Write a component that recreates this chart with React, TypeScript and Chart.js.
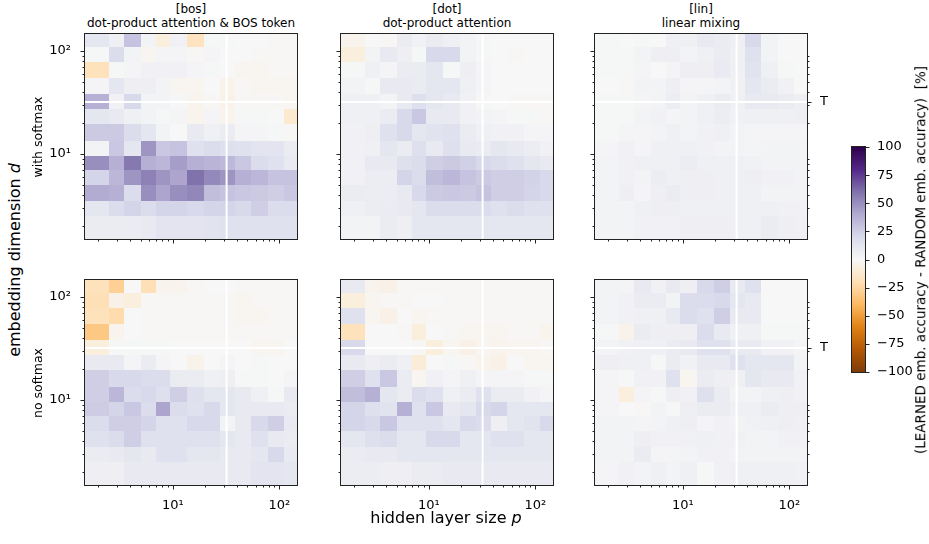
import React, { useEffect, useRef } from "react";
import { Chart, registerables } from "chart.js";

Chart.register(...registerables);

const FONT = "'DejaVu Sans', sans-serif";

// ---------------- data ----------------
const P_VALUES = [2, 3, 4, 6, 8, 11, 16, 23, 32, 45, 64, 91, 128];
// rows are listed from the top of each panel (d = 128) down to the bottom (d = 2)
const D_VALUES_TOP_DOWN = [128, 91, 64, 45, 32, 23, 16, 11, 8, 6, 4, 3, 2];
const T_VALUE = 32;
const MAJOR_TICKS = [10, 100];
const MINOR_TICKS = [2, 3, 4, 5, 6, 7, 8, 9, 20, 30, 40, 50, 60, 70, 80, 90];
const CBAR_TICKS = [-100, -75, -50, -25, 0, 25, 50, 75, 100];
const PUOR = ["#7f3b08", "#b35806", "#e08214", "#fdb863", "#fee0b6", "#f7f7f7", "#d8daeb", "#b2abd2", "#8073ac", "#542788", "#2d004b"];

const COLUMN_TITLES = [
  ["[bos]", "dot-product attention & BOS token"],
  ["[dot]", "dot-product attention"],
  ["[lin]", "linear mixing"],
];
const ROW_LABELS = ["with softmax", "no softmax"];
const X_LABEL = "hidden layer size ";
const Y_LABEL = "embedding dimension ";
const CBAR_LABEL = "(LEARNED emb. accuracy - RANDOM emb. accuracy)  [%]";

const BOS_SOFTMAX = [
  [12, 5, 30, 3, -8, 4, -17, 1, 1, 0, 0, -1, -1],
  [1, 18, 3, -2, 2, 2, -1, 2, 0, 0, -1, -1, -1],
  [-18, 1, 2, 4, 4, 4, 2, 1, 0, -2, -2, -1, -1],
  [2, 12, 6, 6, 3, -2, -2, 0, -4, -1, -2, -2, -2],
  [38, 4, 20, 3, 3, 1, -3, -1, -4, -1, -1, -1, -2],
  [12, 10, 5, 3, 1, 2, -3, 2, -3, 1, 1, 0, -12],
  [27, 27, 18, 12, 3, 0, 10, 5, 8, 2, 2, 1, -1],
  [3, 28, 12, 48, 28, 30, 15, 18, 16, 15, 13, 13, 8],
  [50, 38, 58, 38, 35, 45, 38, 36, 34, 28, 18, 15, 10],
  [22, 35, 48, 55, 48, 42, 60, 52, 48, 38, 35, 30, 30],
  [40, 38, 18, 50, 42, 50, 53, 32, 30, 28, 27, 25, 28],
  [12, 18, 22, 18, 22, 22, 20, 22, 22, 20, 25, 18, 18],
  [8, 8, 8, 10, 13, 13, 13, 14, 15, 15, 15, 15, 15],
];

const DOT_SOFTMAX = [
  [-3, 0, -1, 8, 4, 8, 5, 3, 1, 0, 0, 0, 0],
  [-8, 3, 10, 6, 1, 20, 20, 3, 1, 0, -1, 0, 0],
  [1, 5, 2, 8, 8, 12, 1, 6, 2, 0, 0, 0, 0],
  [3, 1, 10, 10, 8, 12, 12, 5, 2, 0, 0, 0, 0],
  [5, 5, 3, 10, 16, 12, 10, 4, 1, 0, -1, -1, -1],
  [5, 5, 8, 20, 28, 10, 10, 4, 3, 2, 1, 1, -1],
  [4, 6, 15, 20, 12, 14, 15, 8, 5, 4, 4, 2, 2],
  [4, 5, 12, 8, 16, 10, 16, 10, 8, 12, 10, 7, 4],
  [4, 10, 10, 16, 18, 25, 27, 24, 20, 18, 15, 12, 10],
  [4, 7, 7, 22, 18, 32, 35, 30, 27, 25, 25, 23, 20],
  [8, 7, 7, 10, 20, 27, 28, 27, 30, 25, 25, 22, 20],
  [5, 7, 8, 10, 12, 18, 18, 18, 18, 15, 18, 15, 15],
  [3, 3, 8, 6, 12, 12, 12, 12, 12, 12, 12, 12, 12],
];

const LIN_SOFTMAX = [
  [1, 0, 1, 0, 5, 5, 10, 8, 6, 20, 3, 0, 0],
  [1, 1, 3, 6, 6, 3, 5, 8, 5, 15, 3, 0, 0],
  [1, 1, 2, 0, 2, 6, 6, 9, 5, 14, 5, 1, 0],
  [0, -1, 3, 3, 6, 2, 2, 3, 4, 12, 8, 4, 0],
  [1, 1, 2, 3, 7, 3, 5, 8, 5, 10, 10, 8, 6],
  [1, 1, 3, 4, 2, 3, 5, 7, 4, 5, 5, 5, 6],
  [1, 2, 2, 3, 5, 3, 4, 5, 3, 2, 2, 2, 2],
  [2, 4, 2, 5, 5, 5, 4, 3, 3, 2, 3, 3, 3],
  [3, 4, 5, 5, 5, 7, 5, 5, 5, 4, 3, 3, 3],
  [3, 4, 3, 7, 5, 6, 6, 5, 5, 6, 4, 4, 3],
  [3, 6, 2, 6, 8, 6, 6, 5, 5, 5, 3, 3, 3],
  [3, 3, 5, 6, 6, 5, 5, 5, 5, 5, 5, 4, 4],
  [3, 3, 4, 4, 4, 6, 6, 6, 5, 5, 8, 6, 5],
];

const BOS_NO_SOFTMAX = [
  [-18, -28, 0, -20, -3, -3, -1, 0, 0, -1, -1, -1, -1],
  [-20, -5, -8, -1, -1, -1, -1, -1, -1, -2, -1, -1, -1],
  [-18, -22, 0, -1, -1, -1, -1, -1, -1, -2, -2, -1, -1],
  [-32, -3, 0, -1, -1, -1, -1, -1, -1, -1, -1, -1, -1],
  [-8, 1, 1, 1, 1, 0, 0, 0, 0, 0, -2, -2, 0],
  [10, 10, 2, 8, 2, 0, -4, 0, 2, 0, 1, 0, 0],
  [25, 20, 20, 18, 18, 8, 8, 5, 6, 1, 1, 0, 2],
  [25, 35, 18, 20, 16, 25, 16, 12, 12, 10, 5, 1, 10],
  [26, 22, 28, 18, 42, 18, 15, 20, 12, 10, 10, 10, 8],
  [18, 25, 25, 22, 15, 15, 20, 20, 3, 10, 20, 25, 10],
  [15, 18, 25, 15, 15, 15, 15, 15, 12, 10, 15, 10, 8],
  [8, 10, 12, 10, 15, 15, 12, 12, 10, 10, 12, 20, 10],
  [6, 6, 10, 10, 10, 10, 10, 10, 10, 10, 13, 13, 12],
];

const DOT_NO_SOFTMAX = [
  [10, -3, -5, -1, -1, -1, -1, -1, -1, -1, -1, -1, -1],
  [-8, -2, -1, -1, 0, 0, -1, -1, -1, -1, -1, -1, -1],
  [15, -2, -5, 0, -2, -1, -1, -1, -1, -1, -1, -1, -1],
  [-18, 0, 0, -1, -8, 0, -1, -2, -2, -2, -1, -1, -3],
  [20, 0, 0, 0, -1, -8, -2, -5, -2, -3, -2, -2, -1],
  [10, 6, 8, 5, -10, 0, 1, -1, -3, -5, 0, -2, -2],
  [25, 15, 28, 8, -2, 4, 2, 5, 2, 2, 2, 1, 1],
  [32, 38, 12, 8, 18, 15, 5, 8, 15, 8, 8, 4, 2],
  [22, 16, 14, 38, 15, 28, 10, 12, 20, 22, 12, 12, 12],
  [22, 20, 28, 15, 15, 15, 12, 20, 18, 6, 12, 14, 20],
  [12, 16, 18, 12, 12, 20, 20, 12, 12, 15, 15, 12, 12],
  [8, 10, 10, 12, 12, 12, 12, 12, 12, 12, 12, 12, 12],
  [7, 7, 6, 6, 8, 8, 10, 10, 10, 10, 10, 10, 10],
];

const LIN_NO_SOFTMAX = [
  [3, 2, 10, 4, 10, 6, 20, 25, 10, 15, 0, 0, 0],
  [3, 4, 8, 8, 3, 18, 18, 20, 12, 10, 0, 0, 0],
  [3, 4, 5, 5, 10, 18, 15, 25, 10, 10, 0, 0, 0],
  [1, -4, 8, 6, 6, 6, 18, 10, 5, 5, 1, 1, 1],
  [3, 4, 5, 5, 8, 10, 15, 15, 10, 10, 4, 4, 2],
  [6, 5, 5, 1, 8, 4, 10, 10, 15, 12, 12, 12, 3],
  [2, 1, 4, 4, 15, -2, 8, 6, 5, 12, 10, 10, 4],
  [2, -8, 2, 1, 6, 4, 16, 8, 3, 3, 5, 6, 4],
  [2, 0, -1, 3, 1, 6, 8, 8, 5, 5, 8, 6, 6],
  [3, 3, 2, 3, 5, 6, 2, 4, 3, 4, 5, 6, 5],
  [3, 3, 6, 4, 4, 4, 5, 4, 4, 3, 3, 4, 4],
  [3, 3, 8, 2, 2, 3, 4, 4, 3, 3, 3, 3, 3],
  [2, 4, 3, 5, 3, 5, 1, 4, 5, 5, 5, 5, 4],
];

const PANEL_DATA = [
  [BOS_SOFTMAX, DOT_SOFTMAX, LIN_SOFTMAX],
  [BOS_NO_SOFTMAX, DOT_NO_SOFTMAX, LIN_NO_SOFTMAX],
];

// ---------------- layout ----------------
const COL_LEFT = [85, 341, 595];
const ROW_TOP = [34, 280];
const PW = 212;
const PH = 205;
const CB = { left: 852, top: 147, width: 13, height: 225 };
const TICK_FONT_SIZE = 13;

// ---------------- helpers ----------------
function edgesOf(values: number[]): number[] {
  const n = values.length;
  const e = [values[0] - (values[1] - values[0]) / 2];
  for (let i = 0; i < n - 1; i++) e.push((values[i] + values[i + 1]) / 2);
  e.push(values[n - 1] + (values[n - 1] - values[n - 2]) / 2);
  return e;
}
const D_ASC = [...D_VALUES_TOP_DOWN].reverse();
const X_EDGES = edgesOf(P_VALUES);
const Y_EDGES = edgesOf(D_ASC);

function hexToRgb(h: string) {
  return [parseInt(h.slice(1, 3), 16), parseInt(h.slice(3, 5), 16), parseInt(h.slice(5, 7), 16)];
}
const PUOR_RGB = PUOR.map(hexToRgb);
function puor(v: number): string {
  const t = Math.max(0, Math.min(1, (v + 100) / 200)) * (PUOR.length - 1);
  const i = Math.min(PUOR.length - 2, Math.floor(t));
  const f = t - i;
  const a = PUOR_RGB[i];
  const b = PUOR_RGB[i + 1];
  const c = a.map((x, k) => Math.round(x + (b[k] - x) * f));
  return `rgb(${c[0]},${c[1]},${c[2]})`;
}
function decadeLabel(v: number): string {
  if (v === 10) return "10\u00b9";
  if (v === 100) return "10\u00b2";
  return "";
}
const ALL_TICKS = [...MINOR_TICKS, ...MAJOR_TICKS].sort((a, b) => a - b);
const MAJOR_LEN = 4.5;
const MINOR_LEN = 2.5;

// adjust the layout padding until the chart area sits exactly on the target box
function fitArea(chart: any, pad: any, target: { left: number; top: number; right: number; bottom: number }) {
  for (let k = 0; k < 5; k++) {
    const a = chart.chartArea;
    const dl = target.left - a.left;
    const dt = target.top - a.top;
    const dr = a.right - target.right;
    const db = a.bottom - target.bottom;
    if (Math.abs(dl) + Math.abs(dt) + Math.abs(dr) + Math.abs(db) < 0.25) break;
    pad.left += dl;
    pad.top += dt;
    pad.right += dr;
    pad.bottom += db;
    chart.options.layout.padding = { left: pad.left, top: pad.top, right: pad.right, bottom: pad.bottom };
    chart.update();
  }
}

function Panel({ row, col }: { row: number; col: number }) {
  const ref = useRef<HTMLCanvasElement>(null);
  const ML = col === 0 ? 52 : 14;
  const MR = col === 2 ? 34 : 14;
  const MT = 16;
  const MB = 34;
  const showT = col === 2;
  const data = PANEL_DATA[row][col];
  const w = PW + ML + MR;
  const h = PH + MT + MB;

  useEffect(() => {
    if (!ref.current) return;
    const heat = {
      id: "heat",
      beforeDatasetsDraw(chart: any) {
        const ctx = chart.ctx;
        const xs = chart.scales.x;
        const ys = chart.scales.y;
        ctx.save();
        D_VALUES_TOP_DOWN.forEach((d, ri) => {
          const j = D_ASC.indexOf(d);
          const yb = Math.round(ys.getPixelForValue(Y_EDGES[j]));
          const yt = Math.round(ys.getPixelForValue(Y_EDGES[j + 1]));
          P_VALUES.forEach((p, ci) => {
            const x0 = Math.round(xs.getPixelForValue(X_EDGES[ci]));
            const x1 = Math.round(xs.getPixelForValue(X_EDGES[ci + 1]));
            ctx.fillStyle = puor(data[ri][ci]);
            ctx.fillRect(x0, yt, x1 - x0, yb - yt);
          });
        });
        const a = chart.chartArea;
        ctx.strokeStyle = "#ffffff";
        ctx.lineWidth = 2;
        const tx = xs.getPixelForValue(T_VALUE);
        const ty = ys.getPixelForValue(T_VALUE);
        ctx.beginPath();
        ctx.moveTo(tx, a.top);
        ctx.lineTo(tx, a.bottom);
        ctx.moveTo(a.left, ty);
        ctx.lineTo(a.right, ty);
        ctx.stroke();
        ctx.restore();
      },
      afterDraw(chart: any) {
        const ctx = chart.ctx;
        const a = chart.chartArea;
        const xs = chart.scales.x;
        const ys = chart.scales.y;
        ctx.save();
        ctx.strokeStyle = "#222";
        ctx.lineWidth = 1;
        ctx.strokeRect(a.left - 0.5, a.top - 0.5, a.right - a.left + 1, a.bottom - a.top + 1);
        ctx.beginPath();
        ALL_TICKS.forEach((v) => {
          const len = MAJOR_TICKS.includes(v) ? MAJOR_LEN : MINOR_LEN;
          const px = Math.round(xs.getPixelForValue(v)) + 0.5;
          ctx.moveTo(px, a.bottom);
          ctx.lineTo(px, a.bottom + len);
          const py = Math.round(ys.getPixelForValue(v)) + 0.5;
          ctx.moveTo(a.left, py);
          ctx.lineTo(a.left - len, py);
          if (showT && !MAJOR_TICKS.includes(v)) {
            ctx.moveTo(a.right, py);
            ctx.lineTo(a.right + MINOR_LEN, py);
          }
        });
        if (showT) {
          const py = Math.round(ys.getPixelForValue(T_VALUE)) + 0.5;
          ctx.moveTo(a.right, py);
          ctx.lineTo(a.right + MAJOR_LEN, py);
        }
        ctx.stroke();
        ctx.restore();
      },
    };

    const tickFont = { family: FONT, size: TICK_FONT_SIZE };
    const scales: any = {
      x: {
        type: "logarithmic",
        position: "bottom",
        bounds: "data",
        min: X_EDGES[0],
        max: X_EDGES[X_EDGES.length - 1],
        grid: { display: false },
        border: { display: false },
        afterBuildTicks: (s: any) => {
          s.ticks = ALL_TICKS.map((v) => ({ value: v }));
        },
        afterFit: (s: any) => {
          s.height = MB - 4;
        },
        ticks: {
          display: row === 1,
          autoSkip: false,
          maxRotation: 0,
          minRotation: 0,
          padding: 5,
          color: "#000",
          font: tickFont,
          callback: (v: any) => decadeLabel(Number(v)),
        },
      },
      y: {
        type: "logarithmic",
        position: "left",
        bounds: "data",
        min: Y_EDGES[0],
        max: Y_EDGES[Y_EDGES.length - 1],
        grid: { display: false },
        border: { display: false },
        afterBuildTicks: (s: any) => {
          s.ticks = ALL_TICKS.map((v) => ({ value: v }));
        },
        afterFit: (s: any) => {
          s.width = ML - 4;
        },
        ticks: {
          display: col === 0,
          autoSkip: false,
          padding: 6,
          color: "#000",
          font: tickFont,
          callback: (v: any) => decadeLabel(Number(v)),
        },
      },
    };
    if (showT) {
      scales.y2 = {
        type: "logarithmic",
        position: "right",
        bounds: "data",
        min: Y_EDGES[0],
        max: Y_EDGES[Y_EDGES.length - 1],
        grid: { display: false },
        border: { display: false },
        afterBuildTicks: (s: any) => {
          s.ticks = [{ value: T_VALUE }];
        },
        afterFit: (s: any) => {
          s.width = MR - 4;
        },
        ticks: {
          autoSkip: false,
          padding: 5,
          color: "#000",
          font: tickFont,
          callback: () => "T",
        },
      };
    }

    const points: any[] = [];
    D_VALUES_TOP_DOWN.forEach((d, ri) =>
      P_VALUES.forEach((p, ci) => points.push({ x: p, y: d, v: data[ri][ci] }))
    );

    const pad = { left: 4, top: MT, right: showT ? 4 : MR, bottom: 4 };
    const chart = new Chart(ref.current, {
      type: "scatter",
      data: { datasets: [{ data: points, pointRadius: 0, pointHoverRadius: 0 }] },
      options: {
        animation: false,
        responsive: false,
        devicePixelRatio: 1,
        events: [],
        layout: { padding: { ...pad } },
        plugins: { legend: { display: false }, tooltip: { enabled: false } },
        scales,
      } as any,
      plugins: [heat],
    });
    fitArea(chart, pad, { left: ML, top: MT, right: ML + PW, bottom: MT + PH });
    return () => chart.destroy();
  }, []);

  return (
    <canvas
      ref={ref}
      width={w}
      height={h}
      style={{ position: "absolute", left: COL_LEFT[col] - ML, top: ROW_TOP[row] - MT, width: w, height: h }}
    />
  );
}

function ColorBar() {
  const ref = useRef<HTMLCanvasElement>(null);
  const ML = 6;
  const MV = 14;
  const MR = 50;
  const w = ML + CB.width + MR;
  const h = CB.height + 2 * MV;
  useEffect(() => {
    if (!ref.current) return;
    const grad = {
      id: "grad",
      beforeDatasetsDraw(chart: any) {
        const ctx = chart.ctx;
        const a = chart.chartArea;
        const ys = chart.scales.y;
        const g = ctx.createLinearGradient(0, ys.getPixelForValue(-100), 0, ys.getPixelForValue(100));
        PUOR.forEach((c, i) => g.addColorStop(i / (PUOR.length - 1), c));
        ctx.save();
        ctx.fillStyle = g;
        ctx.fillRect(a.left, a.top, a.right - a.left, a.bottom - a.top);
        ctx.restore();
      },
      afterDraw(chart: any) {
        const ctx = chart.ctx;
        const a = chart.chartArea;
        const ys = chart.scales.y;
        ctx.save();
        ctx.strokeStyle = "#222";
        ctx.lineWidth = 1;
        ctx.strokeRect(a.left - 0.5, a.top - 0.5, a.right - a.left + 1, a.bottom - a.top + 1);
        ctx.beginPath();
        CBAR_TICKS.forEach((v) => {
          const py = Math.round(ys.getPixelForValue(v)) + 0.5;
          ctx.moveTo(a.right, py);
          ctx.lineTo(a.right + MAJOR_LEN, py);
        });
        ctx.stroke();
        ctx.restore();
      },
    };
    const pad = { left: ML, right: 0, top: MV, bottom: MV };
    const chart = new Chart(ref.current, {
      type: "scatter",
      data: { datasets: [{ data: CBAR_TICKS.map((v) => ({ x: 0, y: v })), pointRadius: 0 }] },
      options: {
        animation: false,
        responsive: false,
        devicePixelRatio: 1,
        events: [],
        layout: { padding: { ...pad } },
        plugins: { legend: { display: false }, tooltip: { enabled: false } },
        scales: {
          x: { display: false, min: 0, max: 1 },
          y: {
            type: "linear",
            position: "right",
            min: -100,
            max: 100,
            grid: { display: false },
            border: { display: false },
            afterBuildTicks: (s: any) => {
              s.ticks = CBAR_TICKS.map((v) => ({ value: v }));
            },
            afterFit: (s: any) => {
              s.width = MR;
            },
            ticks: {
              padding: 4,
              color: "#000",
              font: { family: FONT, size: TICK_FONT_SIZE },
              callback: (v: any) => (Number(v) < 0 ? "\u2212" + Math.abs(Number(v)) : String(v)),
            },
          },
        },
      } as any,
      plugins: [grad],
    });
    fitArea(chart, pad, { left: ML, top: MV, right: ML + CB.width, bottom: MV + CB.height });
    return () => chart.destroy();
  }, []);
  return (
    <canvas
      ref={ref}
      width={w}
      height={h}
      style={{ position: "absolute", left: CB.left - ML, top: CB.top - MV, width: w, height: h }}
    />
  );
}

function Rotated({ x, y, size, children }: { x: number; y: number; size: number; children: any }) {
  return (
    <div
      style={{
        position: "absolute",
        left: x,
        top: y,
        transform: "translate(-50%, -50%) rotate(-90deg)",
        whiteSpace: "pre",
        fontSize: size,
        lineHeight: 1,
        color: "#000",
      }}
    >
      {children}
    </div>
  );
}

export default function App() {
  return (
    <div
      style={{
        position: "absolute",
        left: 0,
        top: 0,
        width: 929,
        height: 544,
        background: "#fff",
        fontFamily: FONT,
        overflow: "hidden",
      }}
    >
      {COLUMN_TITLES.map((lines, c) => (
        <div
          key={"t" + c}
          style={{
            position: "absolute",
            left: COL_LEFT[c],
            top: 2,
            width: PW,
            textAlign: "center",
            fontSize: 12,
            lineHeight: "14px",
            color: "#000",
            whiteSpace: "nowrap",
          }}
        >
          {lines.map((l, i) => (
            <div key={i}>{l}</div>
          ))}
        </div>
      ))}
      {[0, 1].map((r) => [0, 1, 2].map((c) => <Panel key={r + "-" + c} row={r} col={c} />))}
      <ColorBar />
      <Rotated x={15} y={260} size={16}>
        {Y_LABEL}
        <span style={{ fontStyle: "italic" }}>d</span>
      </Rotated>
      {ROW_LABELS.map((t, r) => (
        <Rotated key={"r" + r} x={38} y={ROW_TOP[r] + PH / 2} size={12.5}>
          {t}
        </Rotated>
      ))}
      <div
        style={{
          position: "absolute",
          left: COL_LEFT[0],
          width: COL_LEFT[2] + PW - COL_LEFT[0],
          top: 509,
          textAlign: "center",
          fontSize: 16,
          lineHeight: "18px",
          color: "#000",
          whiteSpace: "pre",
        }}
      >
        {X_LABEL}
        <span style={{ fontStyle: "italic" }}>p</span>
      </div>
      <Rotated x={921} y={260} size={13.5}>
        {CBAR_LABEL}
      </Rotated>
    </div>
  );
}
